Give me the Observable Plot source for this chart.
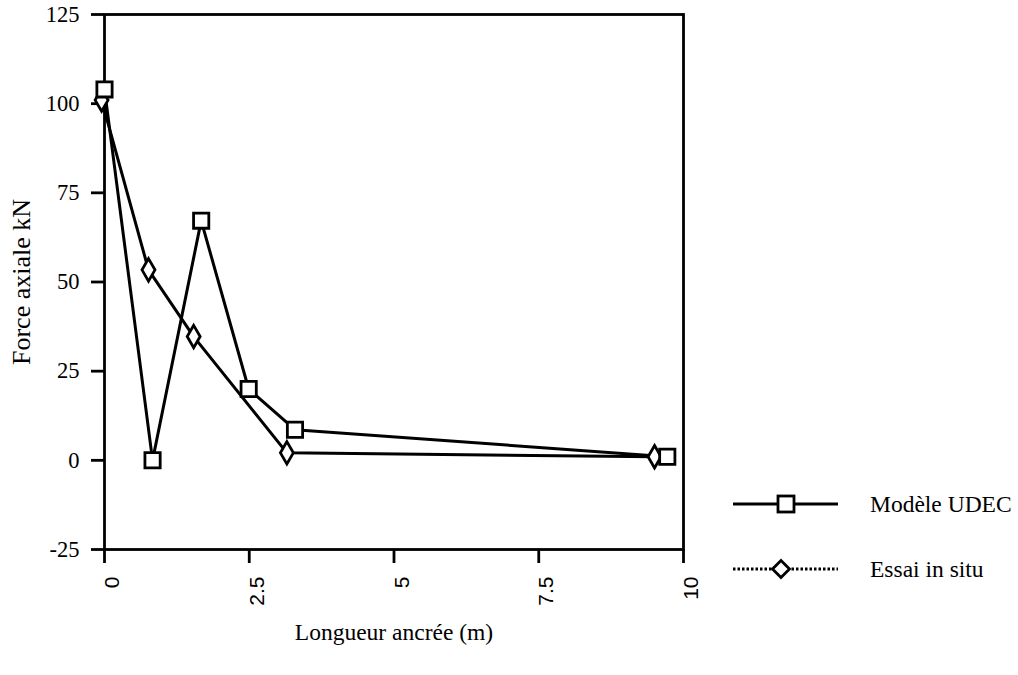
<!DOCTYPE html>
<html>
<head>
<meta charset="utf-8">
<script src="https://cdn.jsdelivr.net/npm/d3@7"></script>
<script src="https://cdn.jsdelivr.net/npm/@observablehq/plot@0.6"></script>
<style>
  body { margin: 0; background: white; }
  #wrap { position: relative; width: 1018px; height: 675px; font-family: "Liberation Serif", serif; }
  #legend { position: absolute; left: 720px; top: 470px; }
</style>
</head>
<body>
<div id="wrap"></div>
<script>
// Data
const udecX = [0, 0.83, 1.67, 2.49, 3.29, 9.72];
const udecY = [104, 0, 67.2, 20, 8.6, 1];
const essaiX = [-0.05, 0.76, 1.54, 3.15, 9.5];
const essaiY = [101, 53.4, 34.7, 2.1, 1];
const xTicks = [0, 2.5, 5, 7.5, 10];
const yTicks = [-25, 0, 25, 50, 75, 100, 125];
const xLabel = "Longueur ancrée (m)";
const yLabel = "Force axiale kN";
const seriesNames = ["Modèle UDEC", "Essai in situ"];

const udec = udecX.map((x, i) => ({x, y: udecY[i]}));
const essai = essaiX.map((x, i) => ({x, y: essaiY[i]}));

const chart = Plot.plot({
  width: 1018,
  height: 675,
  marginLeft: 104,
  marginRight: 335,
  marginTop: 14,
  marginBottom: 126,
  style: {fontFamily: "Liberation Serif", fontSize: "22px", color: "black", background: "white"},
  x: {domain: [0, 10], axis: null},
  y: {domain: [-25, 125], axis: null},
  marks: [
    Plot.axisY(yTicks, {tickSize: 13, tickPadding: 12, strokeWidth: 2.8, fontSize: 22.5,
      tickFormat: d => String(d), label: null}),
    Plot.axisX(xTicks, {tickSize: 14, strokeWidth: 2.8, fill: "none", label: null}),
    Plot.text(xTicks, {x: d => d, text: d => String(d), frameAnchor: "bottom", dy: 27, dx: 8, rotate: -90,
      textAnchor: "end", lineAnchor: "middle", fontFamily: "Liberation Sans", fontSize: 21}),
    Plot.text([yLabel], {frameAnchor: "left", dx: -83, rotate: -90, textAnchor: "middle", lineAnchor: "middle", fontSize: 26}),
    Plot.text([xLabel], {frameAnchor: "bottom", dy: 83, textAnchor: "middle", lineAnchor: "middle", fontSize: 23.5}),
    Plot.frame({stroke: "black", strokeWidth: 2.8}),
    Plot.line(udec, {x: "x", y: "y", stroke: "black", strokeWidth: 3}),
    Plot.line(essai, {x: "x", y: "y", stroke: "black", strokeWidth: 3}),
    Plot.dot(essai, {x: "x", y: "y", symbol: "diamond", r: 6.8, fill: "white", stroke: "black", strokeWidth: 2.8}),
    Plot.dot(udec, {x: "x", y: "y", symbol: "square", r: 8.6, fill: "white", stroke: "black", strokeWidth: 2.8})
  ]
});
document.getElementById("wrap").appendChild(chart);

// Legend
const leg = d3.select("#wrap").append("svg").attr("id", "legend").attr("width", 298).attr("height", 130);
const rows = [
  {name: seriesNames[0], y: 34, dash: null, sym: "square", cx: 66},
  {name: seriesNames[1], y: 99, dash: "2.5,2", sym: "diamond", cx: 61}
];
rows.forEach(r => {
  leg.append("line").attr("x1", 13).attr("x2", 118).attr("y1", r.y).attr("y2", r.y)
    .attr("stroke", "black").attr("stroke-width", 3).attr("stroke-dasharray", r.dash);
  if (r.sym === "square") {
    leg.append("rect").attr("x", r.cx - 8).attr("y", r.y - 8).attr("width", 16).attr("height", 16)
      .attr("fill", "white").attr("stroke", "black").attr("stroke-width", 2.8);
  } else {
    leg.append("path").attr("d", `M${r.cx},${r.y - 8.5}L${r.cx + 8.5},${r.y}L${r.cx},${r.y + 8.5}L${r.cx - 8.5},${r.y}Z`)
      .attr("fill", "white").attr("stroke", "black").attr("stroke-width", 2.8);
  }
  leg.append("text").attr("x", 150).attr("y", r.y).attr("dy", "0.35em")
    .attr("font-family", "Liberation Serif").attr("font-size", 23.5).attr("fill", "black").text(r.name);
});
</script>
</body>
</html>
